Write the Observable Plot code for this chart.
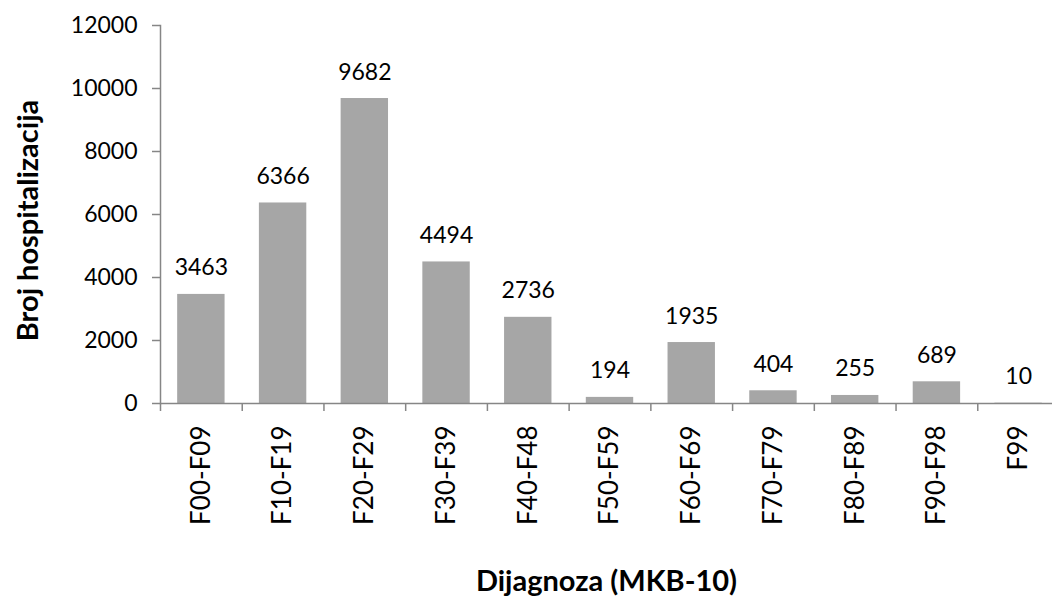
<!DOCTYPE html>
<html><head><meta charset="utf-8">
<script src="https://cdn.jsdelivr.net/npm/d3@7"></script>
<script src="https://cdn.jsdelivr.net/npm/@observablehq/plot@0.6"></script>
<style>html,body{margin:0;padding:0;background:#fff}</style>
</head><body><div id="chart"></div>
<script>
const categories = ["F00-F09","F10-F19","F20-F29","F30-F39","F40-F48","F50-F59","F60-F69","F70-F79","F80-F89","F90-F98","F99"];
const values = [3463, 6366, 9682, 4494, 2736, 194, 1935, 404, 255, 689, 10];
const yTicks = [0, 2000, 4000, 6000, 8000, 10000, 12000];
const xTitle = "Dijagnoza (MKB-10)";
const yTitle = "Broj hospitalizacija";

const data = categories.map((c, i) => ({category: c, value: values[i]}));
const xRange = [160, 1059];
const step = (xRange[1] - xRange[0]) / categories.length;
const axisColor = "#868686";

const chart = Plot.plot({
  width: 1052,
  height: 598,
  marginTop: 25,
  marginBottom: 195,
  marginLeft: 160,
  marginRight: 0,
  style: {fontFamily: "Lato", fontSize: "23px", color: "#000", background: "#fff"},
  x: {domain: categories, range: xRange, paddingInner: 0.42, paddingOuter: 0.21, round: false, label: null},
  y: {domain: [0, 12000], label: null},
  marks: [
    Plot.barY(data, {x: "category", y: "value", fill: "#a6a6a6"}),
    Plot.ruleY([0], {stroke: axisColor, strokeWidth: 1.5}),
    Plot.frame({anchor: "left", stroke: axisColor, strokeWidth: 1.5}),
    Plot.axisY({ticks: yTicks, tickSize: 8, tickPadding: 15, stroke: axisColor, strokeWidth: 1.5, fill: "#000", label: null, tickFormat: d => String(d)}),
    Plot.axisX({tickSize: 8, tickFormat: () => "", dx: -step / 2, stroke: axisColor, strokeWidth: 1.5, label: null}),
    Plot.axisX({tickSize: 0, tickRotate: -90, tickPadding: 22, fontSize: 26, fill: "#000", label: null}),
    Plot.text(data, {x: "category", y: "value", text: d => String(d.value), dy: -19, lineAnchor: "bottom", fill: "#000"}),
    Plot.text([xTitle], {frameAnchor: "bottom", lineAnchor: "bottom", dy: 187, fontWeight: "bold", fontSize: 29, fill: "#000"}),
    Plot.text([yTitle], {frameAnchor: "left", textAnchor: "middle", lineAnchor: "bottom", rotate: -90, dx: -123, dy: 6, fontWeight: "bold", fontSize: 29, fill: "#000"})
  ]
});
document.getElementById("chart").appendChild(chart);
</script>
</body></html>
